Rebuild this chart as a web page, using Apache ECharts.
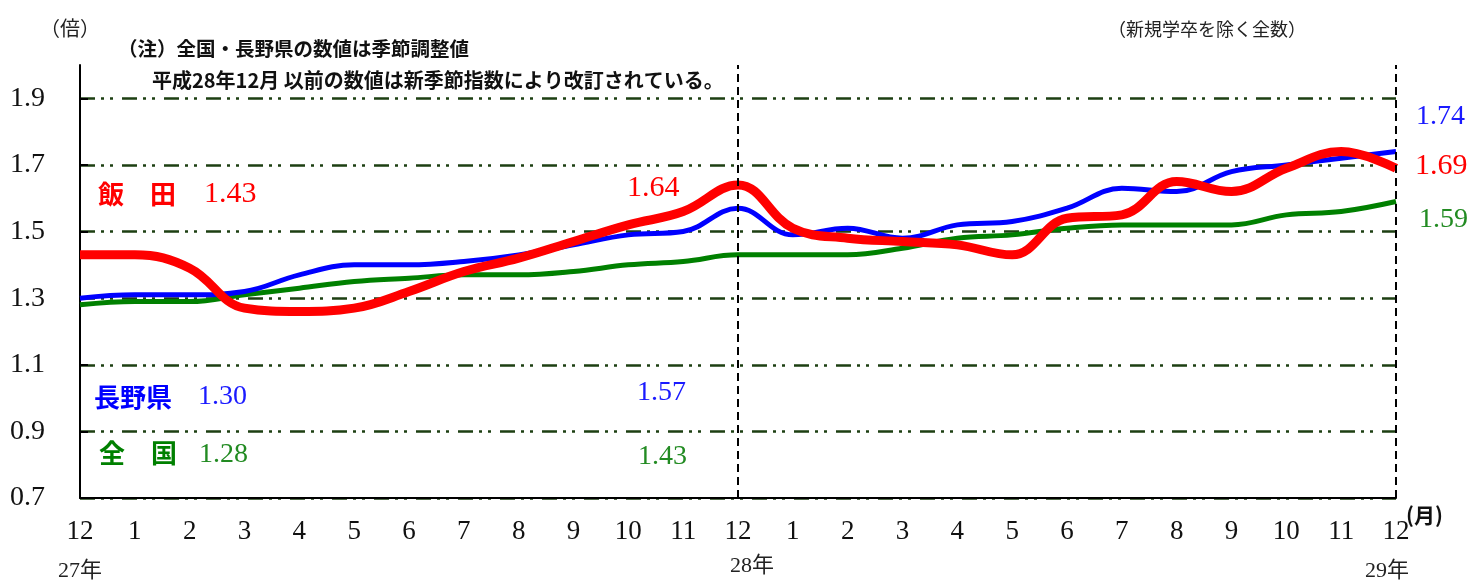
<!DOCTYPE html>
<html>
<head>
<meta charset="utf-8">
<script src="https://cdn.jsdelivr.net/npm/echarts@6/dist/echarts.min.js"></script>
<style>
html,body{margin:0;padding:0;background:#fff;}
#c{width:1480px;height:581px;}
</style>
</head>
<body>
<div id="c"></div>
<script>
// ---- data ----
const months = ['12','1','2','3','4','5','6','7','8','9','10','11','12','1','2','3','4','5','6','7','8','9','10','11','12'];
const iida    = [1.43,1.43,1.39,1.27,1.26,1.27,1.32,1.38,1.42,1.47,1.52,1.56,1.64, 1.51,1.48,1.47,1.46,1.43,1.54,1.55,1.65,1.62,1.69,1.74,1.69];
const nagano  = [1.30,1.31,1.31,1.32,1.37,1.40,1.40,1.41,1.43,1.46,1.49,1.50,1.57, 1.49,1.51,1.48,1.52,1.53,1.57,1.63,1.62,1.68,1.70,1.72,1.74];
const zenkoku = [1.28,1.29,1.29,1.31,1.33,1.35,1.36,1.37,1.37,1.38,1.40,1.41,1.43, 1.43,1.43,1.45,1.48,1.49,1.51,1.52,1.52,1.52,1.55,1.56,1.59];
const yTicks = [0.7,0.9,1.1,1.3,1.5,1.7,1.9];
const yearLabels = ['27年','28年','29年'];

const chart = echarts.init(document.getElementById('c'));
const SERIF = '"Liberation Serif","Noto Sans CJK JP",serif';
const JP = '"Noto Sans CJK JP",sans-serif';
const gridDash = [15,6,3,6,3,9];

function txt(x, y, text, color, size, family, weight, align) {
  return {type:'text', x:x, y:y, style:{text:text, fill:color, font:(weight||'normal')+' '+size+'px '+family, textAlign:align||'left', textVerticalAlign:'middle'}};
}

chart.setOption({
  backgroundColor:'#fff',
  animation:false,
  grid:{left:80, right:84, top:65, bottom:83},
  xAxis:{
    type:'category', data:months, boundaryGap:false,
    axisLine:{lineStyle:{color:'#000', width:2}},
    axisTick:{show:false},
    axisLabel:{interval:0, margin:20, color:'#111', fontSize:27, fontFamily:SERIF},
    splitLine:{show:false}
  },
  yAxis:{
    type:'value', min:0.7, max:2.0,
    axisLine:{show:true, lineStyle:{color:'#000', width:2}},
    axisTick:{show:true, inside:true, length:8, customValues:yTicks, lineStyle:{color:'#000', width:2}},
    axisLabel:{customValues:yTicks, align:'left', margin:70, color:'#111', fontSize:28, fontFamily:SERIF, formatter:v=>v.toFixed(1)},
    splitLine:{show:true, lineStyle:{color:'#1d3f12', width:2.5, type:gridDash}}
  },
  series:[
    {name:'全国', type:'line', data:zenkoku, smooth:0.4, symbol:'none', lineStyle:{color:'#008000', width:5}, z:2},
    {name:'長野県', type:'line', data:nagano, smooth:0.4, symbol:'none', lineStyle:{color:'#0000ff', width:5}, z:3,
      markLine:{silent:true, symbol:'none', label:{show:false},
        lineStyle:{color:'#000', width:2, type:[8,5]},
        data:[{xAxis:12},{xAxis:24}]}},
    {name:'飯田', type:'line', data:iida, smooth:0.4, symbol:'none', lineStyle:{color:'#ff0000', width:9}, z:4}
  ],
  graphic:[
    txt(40, 28, '（倍）', '#222', 20, JP),
    txt(118, 49, '（注）全国・長野県の数値は季節調整値', '#111', 19.5, JP, 'bold'),
    txt(152, 80, '平成28年12月 以前の数値は新季節指数により改訂されている。', '#111', 20, JP, 'bold'),
    txt(1108, 29, '（新規学卒を除く全数）', '#222', 18, JP),
    txt(98, 194, '飯　田', '#ff0000', 26, JP, 'bold'),
    txt(204, 194, '1.43', '#ff0000', 30, SERIF),
    txt(94, 397, '長野県', '#0000ff', 26, JP, 'bold'),
    txt(198, 397, '1.30', '#1a1aff', 28, SERIF),
    txt(99, 453, '全　国', '#008000', 26, JP, 'bold'),
    txt(199, 455, '1.28', '#228b22', 28, SERIF),
    txt(627, 188, '1.64', '#ff0000', 30, SERIF),
    txt(637, 393, '1.57', '#1a1aff', 28, SERIF),
    txt(638, 457, '1.43', '#228b22', 28, SERIF),
    txt(1416, 117, '1.74', '#1a1aff', 28, SERIF),
    txt(1415, 166, '1.69', '#ff0000', 30, SERIF),
    txt(1419, 220, '1.59', '#228b22', 28, SERIF),
    txt(1406, 515, '(月)', '#111', 21, JP, 'bold'),
    txt(80, 571, yearLabels[0], '#222', 22, SERIF, 'normal', 'center'),
    txt(752, 566, yearLabels[1], '#222', 22, SERIF, 'normal', 'center'),
    txt(1387, 571, yearLabels[2], '#222', 22, SERIF, 'normal', 'center')
  ]
});
</script>
</body>
</html>
